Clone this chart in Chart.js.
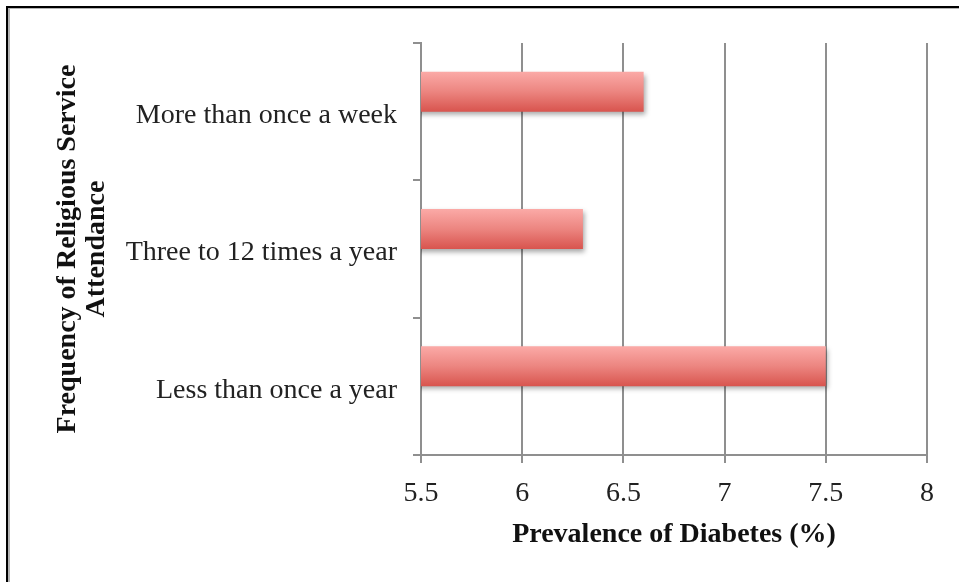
<!DOCTYPE html>
<html>
<head>
<meta charset="utf-8">
<script src="https://cdn.jsdelivr.net/npm/chart.js@4"></script>
<style>
  html, body { margin: 0; padding: 0; background: #fff; overflow: hidden; }
  #wrap { position: relative; width: 959px; height: 582px; }
  .frame {
    position: absolute; left: 6px; top: 6px; width: 1200px; height: 900px;
    border-left: 2px solid #000; border-top: 2px solid #000; box-sizing: border-box;
  }
  .frame::after {
    content: ""; position: absolute; left: 0; top: 0; right: 0; bottom: 0;
    border-left: 2px solid #b4b4b4; border-top: 1px solid #b4b4b4;
  }
  canvas { position: absolute; left: 0; top: 0; }
</style>
</head>
<body>
<div id="wrap">
  <div class="frame"></div>
  <canvas id="chart" width="959" height="582"></canvas>
</div>
<script>
// Prevalence of diabetes by frequency of religious service attendance
const categories = ["More than once a week", "Three to 12 times a year", "Less than once a year"];
const prevalence = [6.6, 6.3, 7.5];
const xTickLabels = ["5.5", "6", "6.5", "7", "7.5", "8"];
const xMin = 5.5, xMax = 8, xStep = 0.5;

const gridGray = '#8f8f8f';
const serif = "'Liberation Serif', 'Times New Roman', serif";

// Gives each bar its own vertical pink-to-red gradient and a soft drop shadow
const barStyle = {
  id: 'barStyle',
  beforeDatasetDraw(chart, args) {
    if (args.index !== 0) return;
    const ctx = chart.ctx;
    args.meta.data.forEach(el => {
      const top = el.y - el.height / 2;
      const g = ctx.createLinearGradient(0, top, 0, top + el.height);
      g.addColorStop(0, '#fbaaa7');
      g.addColorStop(0.5, '#ec8580');
      g.addColorStop(1, '#d8544e');
      el.options = Object.assign({}, el.options, { backgroundColor: g });
    });
    ctx.save();
    ctx.shadowColor = 'rgba(0,0,0,0.35)';
    ctx.shadowBlur = 5;
    ctx.shadowOffsetX = 2;
    ctx.shadowOffsetY = 3;
  },
  afterDatasetDraw(chart, args) {
    if (args.index !== 0) return;
    chart.ctx.restore();
  }
};

new Chart(document.getElementById('chart'), {
  type: 'bar',
  data: {
    labels: categories,
    datasets: [
      { data: prevalence, backgroundColor: '#e67570', borderWidth: 0 },
      // empty companion series: the bars sit in the upper slot of each category
      { data: categories.map(() => null), backgroundColor: 'rgba(0,0,0,0)' }
    ]
  },
  options: {
    indexAxis: 'y',
    responsive: false,
    animation: false,
    events: [],
    categoryPercentage: 0.5825,
    barPercentage: 1.0,
    layout: { padding: { top: 43, right: 32, left: 0, bottom: 0 } },
    plugins: { legend: { display: false }, tooltip: { enabled: false } },
    scales: {
      x: {
        min: xMin, max: xMax,
        ticks: {
          stepSize: xStep,
          color: '#222',
          font: { family: serif, size: 28 },
          padding: 14,
          callback: (v, i) => xTickLabels[i]
        },
        grid: { color: gridGray, lineWidth: 2, tickLength: 8, drawTicks: true },
        border: { display: true, color: gridGray, width: 2 },
        title: {
          display: true,
          text: 'Prevalence of Diabetes (%)',
          color: '#111',
          font: { family: serif, size: 28, weight: 'bold' },
          padding: { top: 0, bottom: 30 }
        },
        afterFit(scale) { scale.height = 127; }
      },
      y: {
        ticks: {
          color: '#222',
          font: { family: serif, size: 28 },
          padding: 16,
          labelOffset: 4
        },
        grid: { color: gridGray, lineWidth: 2, tickLength: 8, drawOnChartArea: false, drawTicks: true, offset: true },
        border: { display: true, color: gridGray, width: 2 },
        title: {
          display: true,
          text: ['Frequency of Religious Service', 'Attendance'],
          color: '#111',
          font: { family: serif, size: 28, weight: 'bold', lineHeight: 1.05 },
          padding: { top: 53, bottom: 0 }
        },
        afterFit(scale) { scale.width = 421; }
      }
    }
  },
  plugins: [barStyle]
});
</script>
</body>
</html>
